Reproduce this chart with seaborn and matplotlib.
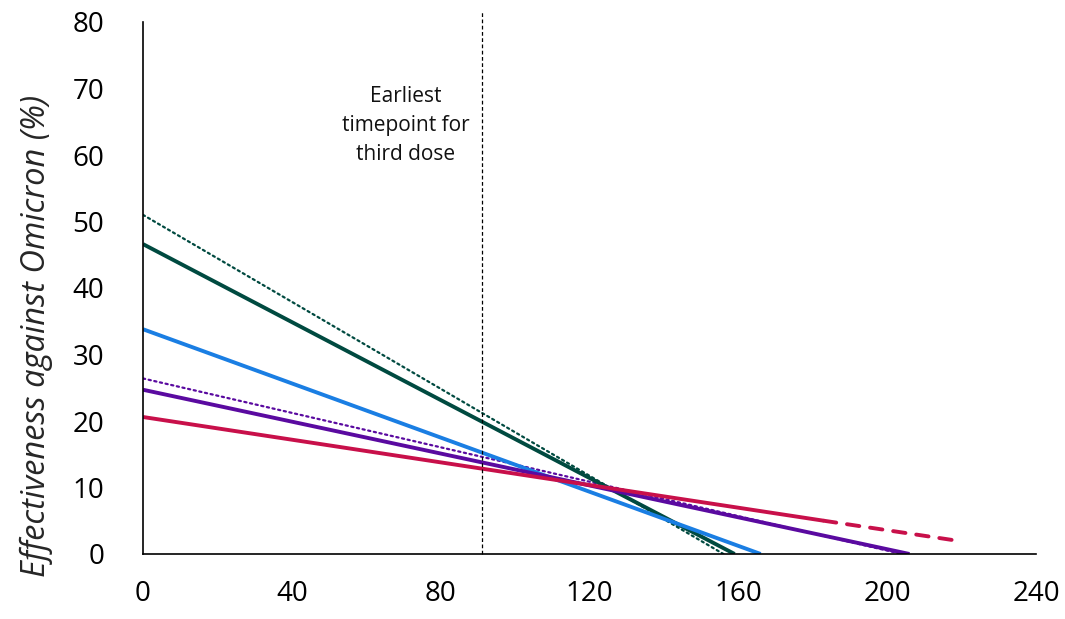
import matplotlib
matplotlib.use("Agg")
import matplotlib.pyplot as plt
import seaborn as sns
import pandas as pd

# Data (endpoints of fitted waning lines)
days = [0, 159]
green_solid = [46.6, 0.0]
days_green_dot = [0, 156]
green_dotted = [51.0, 0.0]
days_blue = [0, 166]
blue_solid = [33.8, 0.0]
days_purple = [0, 206]
purple_solid = [24.7, 0.0]
days_purple_dot = [0, 204]
purple_dotted = [26.4, 0.0]
days_red = [0, 183]
red_solid = [20.6, 5.0]
days_red_ext = [183, 220]
red_dashed = [5.0, 1.9]
third_dose_day = 91
x_ticks = [0, 40, 80, 120, 160, 200, 240]
y_ticks = [0, 10, 20, 30, 40, 50, 60, 70, 80]

sns.set_style("white")
plt.rcParams['font.family'] = ['Open Sans', 'DejaVu Sans']

fig = plt.figure(figsize=(10.65, 6.19), dpi=100)
ax = fig.add_axes([143/1065, 1-554/619, (1036-143)/1065, (554-22)/619])

GREEN = "#004a40"
BLUE = "#1a7ee3"
PURPLE = "#5a0aa0"
RED = "#c8104a"

def draw(x, y, color, ls, lw):
    df = pd.DataFrame({"x": x, "y": y})
    sns.lineplot(data=df, x="x", y="y", color=color, linestyle=ls, linewidth=lw, ax=ax,
                 solid_capstyle="butt", dash_capstyle="round")

draw(days_green_dot, green_dotted, GREEN, (0, (1, 1.6)), 1.6)
draw(days_purple_dot, purple_dotted, PURPLE, (0, (1, 1.6)), 1.6)
draw(days, green_solid, GREEN, "-", 2.8)
draw(days_blue, blue_solid, BLUE, "-", 2.8)
draw(days_purple, purple_solid, PURPLE, "-", 2.8)
draw(days_red, red_solid, RED, "-", 2.8)
draw(days_red_ext, red_dashed, RED, (0, (3.2, 2.8)), 2.8)

ax.plot([third_dose_day, third_dose_day], [0, 81.5], color="black", linestyle=(0, (3, 2)),
        linewidth=0.9, clip_on=False)
ax.text(70.5, 64.4, "Earliest\ntimepoint for\nthird dose", ha="center", va="center",
        fontsize=15, linespacing=1.5, color="#111111")

ax.set_xlim(0, 240)
ax.set_ylim(0, 80)
ax.set_xticks(x_ticks)
ax.set_yticks(y_ticks)
ax.tick_params(axis="both", labelsize=20, length=9, width=1.2, color="black",
               direction="out", labelcolor="black")
ax.tick_params(axis="x", pad=10)
ax.tick_params(axis="y", pad=19)
ax.set_xlabel("")
ax.set_ylabel("Effectiveness against Omicron (%)", fontsize=23.5, fontstyle="italic")
ax.yaxis.set_label_coords(-0.101, 0.409)
for s in ["top", "right"]:
    ax.spines[s].set_visible(False)
for s in ["left", "bottom"]:
    ax.spines[s].set_color("black")
    ax.spines[s].set_linewidth(1.2)

fig.savefig("out.png", dpi=100)
